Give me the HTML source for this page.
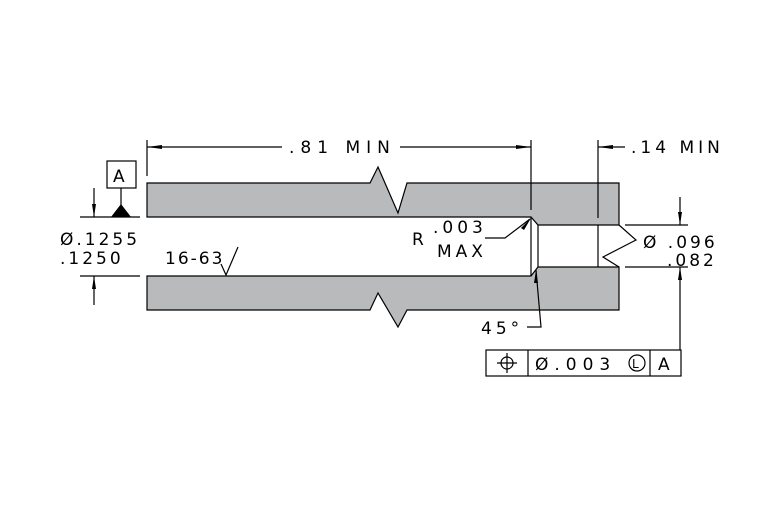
<!DOCTYPE html>
<html><head><meta charset="utf-8"><style>
html,body{margin:0;padding:0;background:#fff;}
svg text{font-family:"DejaVu Sans","Liberation Sans",sans-serif;font-size:17px;fill:#000;letter-spacing:3px;}
</style></head><body>
<svg width="780" height="520" viewBox="0 0 780 520" xmlns="http://www.w3.org/2000/svg">
<rect width="780" height="520" fill="#fff"/>
<g stroke="#000" stroke-width="1.2" fill="#b8babc">
<path d="M147,183 H370 L378,167 L398,213 L407,183 H619 V225 H538 L531,217 H147 Z"/>
<path d="M147,276 H531 L538,267 H619 V310 H407 L398,327 L378,293 L370,310 H147 Z"/>
</g>
<g stroke="#000" stroke-width="1.2" fill="none">
<line x1="531" y1="217" x2="531" y2="276"/>
<line x1="538" y1="225" x2="538" y2="267"/>
<line x1="598" y1="225" x2="598" y2="267"/>
<polyline points="619,225 636,240 603,257 619,267"/>
<line x1="147" y1="140" x2="147" y2="176"/>
<line x1="531" y1="140" x2="531" y2="210"/>
<line x1="147" y1="147" x2="282" y2="147"/>
<line x1="400" y1="147" x2="531" y2="147"/>
<line x1="598" y1="140" x2="598" y2="218"/>
<line x1="598" y1="147" x2="625" y2="147"/>
<line x1="625" y1="225" x2="688" y2="225"/>
<line x1="625" y1="267" x2="688" y2="267"/>
<line x1="680" y1="197" x2="680" y2="225"/>
<line x1="680" y1="267" x2="680" y2="350"/>
<line x1="80" y1="217" x2="140" y2="217"/>
<line x1="80" y1="276" x2="140" y2="276"/>
<line x1="94" y1="188" x2="94" y2="217"/>
<line x1="94" y1="276" x2="94" y2="305"/>
<rect x="107" y="161" width="29" height="27"/>
<line x1="121" y1="188" x2="121" y2="205"/>
<polyline points="221,264 226,275 238,247"/>
<polyline points="485,238 505,238 530,219"/>
<polyline points="527,327 541,327 536,270"/>
<rect x="486" y="350" width="195" height="26"/>
<line x1="528" y1="350" x2="528" y2="376"/>
<line x1="650" y1="350" x2="650" y2="376"/>
<circle cx="507" cy="363" r="6"/>
<line x1="497" y1="363" x2="517" y2="363"/>
<line x1="507" y1="353" x2="507" y2="373"/>
<circle cx="637" cy="363" r="8"/>
</g>
<g fill="#000">
<polygon points="147,147 162,145 162,149"/>
<polygon points="531,147 516,145 516,149"/>
<polygon points="598,147 613,145 613,149"/>
<polygon points="680,225 678,212 682,212"/>
<polygon points="680,267 678,280 682,280"/>
<polygon points="94,217 92,204 96,204"/>
<polygon points="94,276 92,289 96,289"/>
<polygon points="111,217 131,217 121,204"/>
<polygon points="531,218 521,228 524,230"/>
<polygon points="536,270 534,283 538,283"/>
</g>
<text x="289" y="153" style="letter-spacing:6px">.81 MIN</text>
<text x="631" y="153" style="letter-spacing:4px">.14 MIN</text>
<text x="113" y="182" style="letter-spacing:0">A</text>
<text x="60" y="245">Ø.1255</text>
<text x="60" y="264">.1250</text>
<text x="165" y="264" style="letter-spacing:2px">16-63</text>
<text x="412" y="245">R</text>
<text x="433" y="233" style="letter-spacing:4px">.003</text>
<text x="437" y="257" style="letter-spacing:4px">MAX</text>
<text x="481" y="334" style="letter-spacing:4px">45°</text>
<text x="643" y="248">Ø .096</text>
<text x="667" y="266">.082</text>
<text x="535" y="370" style="letter-spacing:6px">Ø.003</text>
<text x="632" y="368" style="font-size:12px;letter-spacing:0">L</text>
<text x="658" y="370" style="letter-spacing:0">A</text>
</svg>
</body></html>
